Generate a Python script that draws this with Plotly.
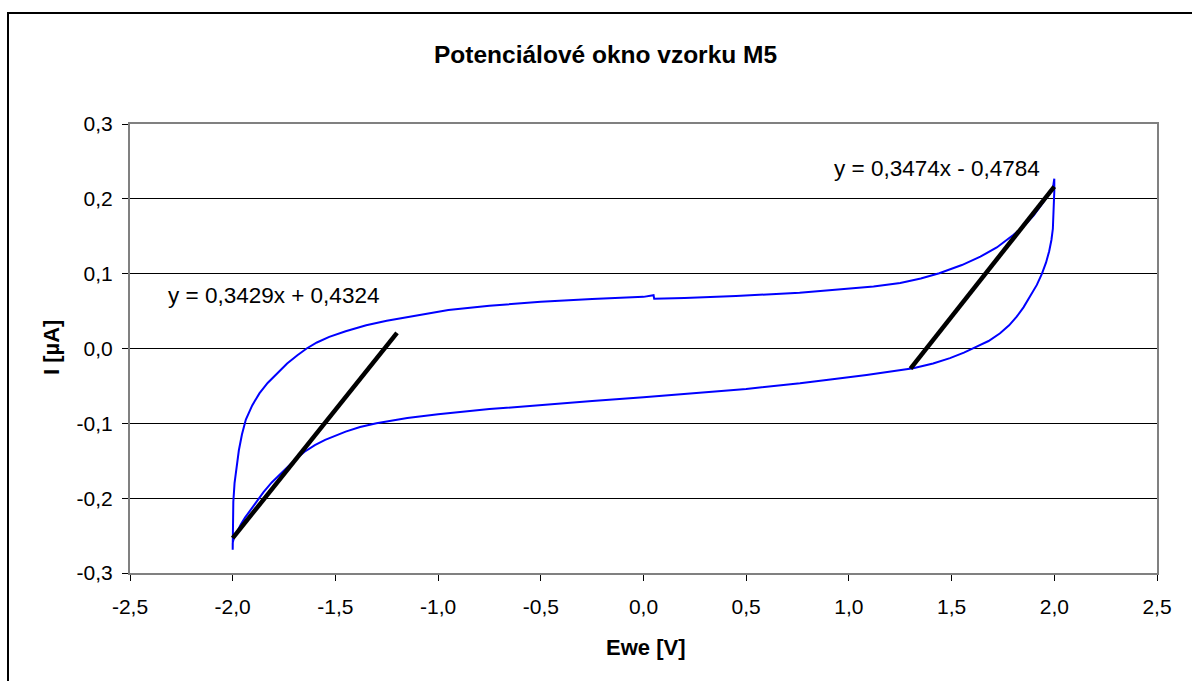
import plotly.graph_objects as go

# ---- data ----
ewe_fwd = [-2.000, -2.000, -1.997, -1.991, -1.982, -1.970, -1.955, -1.936, -1.905, -1.870,
           -1.830, -1.785, -1.735, -1.685, -1.640, -1.590, -1.530, -1.450, -1.350, -1.250,
           -1.100, -0.950, -0.750, -0.500, -0.250, 0.000, 0.049, 0.052, 0.200, 0.450,
           0.760, 1.000, 1.120, 1.250, 1.350, 1.440, 1.550, 1.640, 1.720, 1.800,
           1.850, 1.900, 1.950, 1.980, 1.994, 2.000]
i_fwd = [-0.269, -0.235, -0.205, -0.180, -0.158, -0.136, -0.115, -0.095, -0.076, -0.060,
         -0.046, -0.033, -0.020, -0.009, 0.000, 0.008, 0.0155, 0.023, 0.031, 0.037,
         0.044, 0.0515, 0.057, 0.0625, 0.066, 0.069, 0.0712, 0.0665, 0.0675, 0.070,
         0.0746, 0.080, 0.083, 0.0875, 0.0935, 0.1005, 0.1115, 0.1227, 0.135, 0.1517,
         0.163, 0.178, 0.196, 0.208, 0.216, 0.227]

ewe_rev = [2.000, 2.000, 1.999, 1.997, 1.993, 1.986, 1.975, 1.960, 1.940, 1.915,
           1.882, 1.850, 1.817, 1.780, 1.736, 1.680, 1.622, 1.560, 1.492, 1.410,
           1.313, 1.200, 1.086, 0.920, 0.762, 0.500, 0.250, 0.000, -0.250, -0.500,
           -0.750, -1.000, -1.150, -1.300, -1.380, -1.450, -1.500, -1.550, -1.600, -1.650,
           -1.690, -1.720, -1.750, -1.780, -1.810, -1.850, -1.883, -1.910, -1.940, -1.960,
           -1.980, -1.995, -2.000, -2.000]
i_rev = [0.227, 0.210, 0.195, 0.178, 0.160, 0.145, 0.130, 0.115, 0.100, 0.085,
         0.069, 0.055, 0.0425, 0.031, 0.0203, 0.010, 0.0024, -0.0055, -0.0128, -0.0200,
         -0.0265, -0.031, -0.0354, -0.041, -0.0465, -0.054, -0.060, -0.065, -0.070, -0.075,
         -0.081, -0.088, -0.093, -0.100, -0.105, -0.111, -0.116, -0.122, -0.129, -0.138,
         -0.147, -0.155, -0.163, -0.171, -0.179, -0.192, -0.204, -0.214, -0.226, -0.235,
         -0.245, -0.254, -0.260, -0.269]

# linear trendlines as printed on the chart
fit_left_x = [-2.0, -1.2]
fit_left_m, fit_left_b = 0.3429, 0.4324
fit_right_x = [1.3, 2.0]
fit_right_m, fit_right_b = 0.3474, -0.4784
eq_left = "y = 0,3429x + 0,4324"
eq_right = "y = 0,3474x - 0,4784"

x_ticks = [-2.5, -2.0, -1.5, -1.0, -0.5, 0.0, 0.5, 1.0, 1.5, 2.0, 2.5]
x_ticktext = ["-2,5", "-2,0", "-1,5", "-1,0", "-0,5", "0,0", "0,5", "1,0", "1,5", "2,0", "2,5"]
y_ticks = [-0.3, -0.2, -0.1, 0.0, 0.1, 0.2, 0.3]
y_ticktext = ["-0,3", "-0,2", "-0,1", "0,0", "0,1", "0,2", "0,3"]

title_text = "Potenciálové okno vzorku M5"
x_title = "Ewe [V]"
y_title = "I [µA]"

# ---- layout geometry (pixels) ----
W, H = 1192, 681
L, R, T, B = 130, 1157, 124, 573
PW, PH = R - L, B - T


def px(x):
    return (x - L) / PW


def py(y):
    return (B - y) / PH


FONT = "Liberation Sans, Arial, sans-serif"

fig = go.Figure()
fig.add_trace(go.Scatter(x=ewe_fwd + ewe_rev, y=i_fwd + i_rev, mode="lines",
                         line=dict(color="#0000FF", width=2),
                         showlegend=False, hoverinfo="skip"))
fig.add_trace(go.Scatter(x=fit_left_x, y=[fit_left_m * v + fit_left_b for v in fit_left_x],
                         mode="lines", line=dict(color="black", width=4.5), showlegend=False,
                         hoverinfo="skip"))
fig.add_trace(go.Scatter(x=fit_right_x, y=[fit_right_m * v + fit_right_b for v in fit_right_x],
                         mode="lines", line=dict(color="black", width=4.5), showlegend=False,
                         hoverinfo="skip"))

fig.update_layout(
    width=W, height=H,
    margin=dict(l=L, r=W - R, t=T, b=H - B, pad=0),
    paper_bgcolor="white", plot_bgcolor="white",
    font=dict(family=FONT, size=21, color="black"),
    showlegend=False,
    xaxis=dict(range=[-2.5, 2.5], tickvals=x_ticks, ticktext=x_ticktext,
               showgrid=False, zeroline=False, showline=True, linecolor="#808080",
               linewidth=2, mirror=True, ticks="outside", ticklen=6, tickcolor="black",
               tickwidth=1, tickfont=dict(size=21), ticklabelstandoff=8),
    yaxis=dict(range=[-0.3, 0.3], tickvals=y_ticks, ticktext=y_ticktext,
               showgrid=True, gridcolor="black", gridwidth=1, zeroline=False,
               showline=True, linecolor="#808080", linewidth=2, mirror=True,
               ticks="outside", ticklen=6, tickcolor="black", tickwidth=1,
               tickfont=dict(size=21), ticklabelstandoff=5),
    shapes=[dict(type="rect", xref="paper", yref="paper",
                 x0=px(8), x1=px(1210), y0=py(700), y1=py(13),
                 line=dict(color="black", width=2), fillcolor="rgba(0,0,0,0)",
                 layer="below")],
    annotations=[
        dict(text="<b>" + title_text + "</b>", xref="paper", yref="paper",
             x=px(605), y=py(54), xanchor="center", yanchor="middle",
             showarrow=False, font=dict(size=24.5)),
        dict(text="<b>" + x_title + "</b>", xref="paper", yref="paper",
             x=px(645), y=py(647), xanchor="center", yanchor="middle",
             showarrow=False, font=dict(size=22)),
        dict(text="<b>" + y_title + "</b>", xref="paper", yref="paper",
             x=px(51), y=py(348), xanchor="center", yanchor="middle",
             showarrow=False, textangle=-90, font=dict(size=22)),
        dict(text=eq_left, xref="paper", yref="paper",
             x=px(166), y=py(295), xanchor="left", yanchor="middle",
             showarrow=False, font=dict(size=22.5)),
        dict(text=eq_right, xref="paper", yref="paper",
             x=px(832), y=py(168), xanchor="left", yanchor="middle",
             showarrow=False, font=dict(size=22.5)),
    ],
)

fig.write_html("out.html", config={"displayModeBar": False},
               post_script="document.body.style.margin='0px';")
